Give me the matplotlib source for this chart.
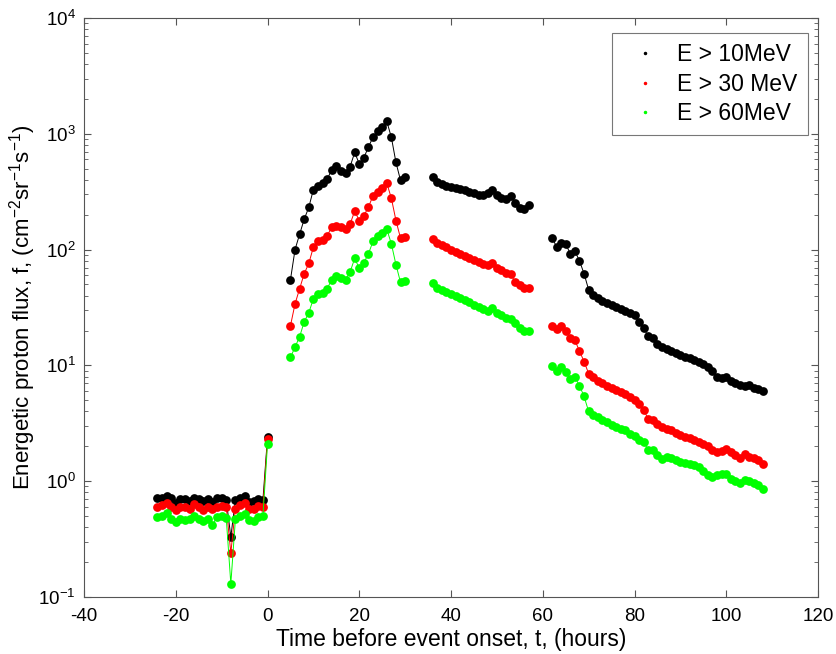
import numpy as np
import matplotlib
matplotlib.use("Agg")
import matplotlib.pyplot as plt
from matplotlib.lines import Line2D
from matplotlib.ticker import LogLocator, FixedLocator

# =========================================================
# DATA
# =========================================================

hours_1 = list(range(-24, 1))
hours_2 = list(range(5, 31))
hours_3 = list(range(36, 58))
hours_4 = list(range(62, 109))

e10_1 = [0.72, 0.72, 0.74, 0.71, 0.65, 0.70, 0.70, 0.68, 0.72, 0.70, 0.67, 0.70, 0.66,
         0.71, 0.71, 0.69, 0.33, 0.69, 0.72, 0.75, 0.66, 0.67, 0.70, 0.69, 2.4]
e30_1 = [0.60, 0.62, 0.65, 0.60, 0.56, 0.60, 0.60, 0.58, 0.63, 0.60, 0.56, 0.60, 0.57,
         0.60, 0.61, 0.60, 0.24, 0.58, 0.62, 0.65, 0.57, 0.58, 0.61, 0.60, 2.3]
e60_1 = [0.49, 0.50, 0.53, 0.47, 0.44, 0.47, 0.46, 0.47, 0.50, 0.47, 0.45, 0.47, 0.42,
         0.49, 0.50, 0.48, 0.13, 0.47, 0.50, 0.52, 0.46, 0.45, 0.49, 0.50, 2.1]

e10_2 = [55, 100, 136, 183, 232, 330, 355, 375, 405, 490, 525, 480, 455, 520, 690, 550,
         620, 770, 935, 1050, 1150, 1280, 930, 565, 395, 420]
e30_2 = [22, 34, 46, 62, 76, 105, 118, 122, 132, 156, 160, 156, 152, 166, 215, 178,
         196, 233, 292, 316, 340, 375, 277, 178, 125, 128]
e60_2 = [11.7, 14.4, 17.7, 23.8, 28.5, 37.6, 41.7, 42.3, 46, 55, 59, 57, 55, 64, 84, 69,
         77, 92, 118, 130, 140, 150, 112, 74, 52, 54]

e10_3 = [420, 385, 368, 357, 345, 338, 331, 327, 316, 305, 298, 296, 310, 327, 296, 281,
         274, 292, 251, 227, 223, 242]
e30_3 = [124, 115, 110, 105, 100, 96, 92, 88, 85, 82, 78, 75, 74, 77, 70, 66, 63, 62,
         52, 49, 47, 47]
e60_3 = [51, 47, 45, 43, 41, 39.5, 38, 36.5, 35, 33.5, 32, 30.5, 29.5, 31, 28.5, 27,
         25.5, 25, 23, 21, 19.8, 20]

e10_4 = [127, 106, 114, 112, 92, 97, 80, 62, 45, 40.5, 38, 36, 34.7, 33, 32, 30.5, 29.5,
         28.5, 27, 23.5, 21, 17.8, 17.2, 15.2, 14.5, 13.9, 13.3, 12.7, 12.3, 11.8, 11.5,
         11.2, 10.6, 10.2, 9.6, 9.0, 7.9, 7.8, 7.9, 7.4, 7.1, 6.8, 6.6, 6.8, 6.4, 6.2, 6.0]
e30_4 = [22, 20.5, 22, 20, 17.2, 16.5, 13.3, 10.8, 8.5, 7.9, 7.4, 7.0, 6.7, 6.4, 6.1,
         5.85, 5.65, 5.3, 5.0, 4.6, 4.1, 3.45, 3.35, 3.1, 2.95, 2.85, 2.75, 2.62, 2.52,
         2.42, 2.38, 2.28, 2.2, 2.1, 2.0, 1.85, 1.8, 1.82, 1.9, 1.78, 1.68, 1.6, 1.72,
         1.63, 1.57, 1.52, 1.42]
e60_4 = [9.8, 9.0, 9.6, 8.7, 7.6, 7.9, 6.7, 5.4, 4.0, 3.75, 3.55, 3.35, 3.24, 3.05, 2.93,
         2.84, 2.74, 2.57, 2.45, 2.28, 2.18, 1.86, 1.86, 1.67, 1.55, 1.62, 1.6, 1.51, 1.46,
         1.43, 1.41, 1.38, 1.32, 1.22, 1.12, 1.08, 1.12, 1.15, 1.16, 1.05, 1.0, 0.96, 1.02,
         1.0, 0.97, 0.93, 0.86]

labels = ["E > 10MeV", "E > 30 MeV", "E > 60MeV"]
colors = ["#000000", "#ff0000", "#00ff00"]

segments = [hours_1, hours_2, hours_3, hours_4]
series = [
    [e10_1, e10_2, e10_3, e10_4],
    [e30_1, e30_2, e30_3, e30_4],
    [e60_1, e60_2, e60_3, e60_4],
]

# =========================================================
# PLOT
# =========================================================

plt.rcParams["font.family"] = ["Liberation Sans", "DejaVu Sans"]
plt.rcParams["mathtext.fontset"] = "custom"
plt.rcParams["mathtext.rm"] = "Liberation Sans"
plt.rcParams["mathtext.it"] = "Liberation Sans:italic"
plt.rcParams["mathtext.default"] = "regular"
plt.rcParams["axes.unicode_minus"] = False

fig = plt.figure(figsize=(8.37, 6.54), dpi=100)
ax = fig.add_axes([0.1004, 0.0872, 0.8769, 0.8853])

for values, color in zip(series, colors):
    for hours, vals in zip(segments, values):
        ax.plot(hours, vals, color=color, linewidth=0.7, marker="o",
                markersize=6.3, markeredgewidth=0)

ax.set_yscale("log")
ax.set_xlim(-40, 120)
ax.set_ylim(0.1, 1e4)
ax.xaxis.set_major_locator(FixedLocator(np.arange(-40, 121, 20)))
ax.yaxis.set_major_locator(LogLocator(base=10, numticks=10))
ax.yaxis.set_minor_locator(LogLocator(base=10, subs=np.arange(2, 10), numticks=20))

axis_color = "#555555"
for spine in ax.spines.values():
    spine.set_color(axis_color)
    spine.set_linewidth(0.8)

ax.tick_params(which="both", direction="in", top=True, right=True,
               color=axis_color, labelsize=13.5, labelcolor="black")
ax.tick_params(which="major", length=5)
ax.tick_params(which="minor", length=3)
ax.tick_params(axis="x", pad=8)
ax.tick_params(axis="y", pad=6)

ax.set_xlabel("Time before event onset, t, (hours)", fontsize=16.5, labelpad=2)
ax.set_ylabel("Energetic proton flux, f, (cm$^{-2}$sr$^{-1}$s$^{-1}$)",
              fontsize=16, labelpad=0)

handles = [Line2D([], [], linestyle="none", marker=".", markersize=3, color=c)
           for c in colors]
leg = ax.legend(handles, labels, loc="upper right", fontsize=16.5, frameon=True,
                fancybox=False, edgecolor=axis_color, borderpad=0.45,
                handlelength=2.0, handletextpad=0.4, labelspacing=0.28,
                borderaxespad=0, bbox_to_anchor=(0.9864, 0.974))
leg.get_frame().set_linewidth(0.8)

fig.savefig("out.png", dpi=100)
